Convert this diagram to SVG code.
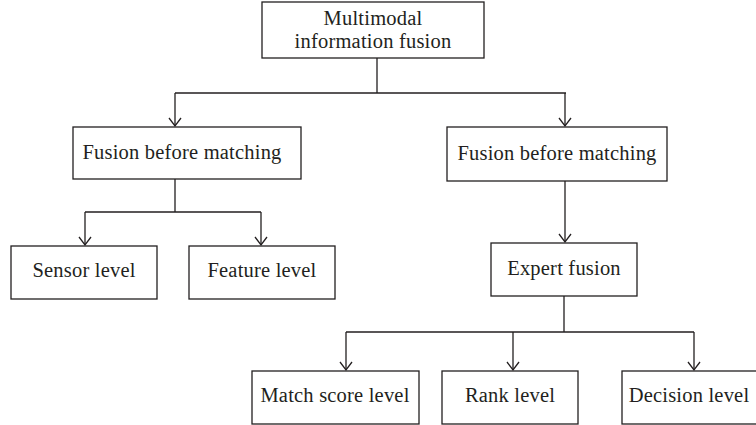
<svg xmlns="http://www.w3.org/2000/svg" width="756" height="425" viewBox="0 0 756 425">
<style>
.box{fill:#fff;stroke:#231f20;stroke-width:1.3}
.lbl{font-family:"Liberation Serif","Times New Roman",serif;font-size:20.5px;letter-spacing:0.2px;fill:#231f20;text-anchor:middle}
.con{fill:none;stroke:#231f20;stroke-width:1.3}
</style>
<defs>
<marker id="arr" viewBox="-10 -7 12 14" refX="0" refY="0" markerWidth="12" markerHeight="14" markerUnits="userSpaceOnUse" orient="auto">
<path d="M-8,-6 L0,0 L-8,6" fill="none" stroke="#231f20" stroke-width="1.3"/>
</marker>
</defs>
<g id="connectors">
<path class="con" d="M377,58 V93 M175,93 H566"/>
<path class="con" d="M175,93 V126" marker-end="url(#arr)"/>
<path class="con" d="M565,93 V126" marker-end="url(#arr)"/>
<path class="con" d="M175,179 V212 M85,212 H261"/>
<path class="con" d="M85,212 V245" marker-end="url(#arr)"/>
<path class="con" d="M261,212 V245" marker-end="url(#arr)"/>
<path class="con" d="M565,181 V242" marker-end="url(#arr)"/>
<path class="con" d="M564,296 V332 M346,332 H694"/>
<path class="con" d="M346,332 V370" marker-end="url(#arr)"/>
<path class="con" d="M513,332 V370" marker-end="url(#arr)"/>
<path class="con" d="M694,332 V370" marker-end="url(#arr)"/>
</g>
<g id="root">
<rect class="box" x="262" y="2" width="222" height="56"/>
<text class="lbl" x="373" y="25">Multimodal</text>
<text class="lbl" x="373" y="48">information fusion</text>
</g>
<g id="fbm-left">
<rect class="box" x="73" y="127" width="228" height="52"/>
<text class="lbl" x="182" y="159">Fusion before matching</text>
</g>
<g id="fbm-right">
<rect class="box" x="447" y="127" width="220" height="54"/>
<text class="lbl" x="557" y="160">Fusion before matching</text>
</g>
<g id="sensor">
<rect class="box" x="11" y="246" width="146" height="53"/>
<text class="lbl" x="84" y="277">Sensor level</text>
</g>
<g id="feature">
<rect class="box" x="189" y="246" width="146" height="53"/>
<text class="lbl" x="262" y="277">Feature level</text>
</g>
<g id="expert">
<rect class="box" x="491" y="243" width="146" height="53"/>
<text class="lbl" x="564" y="275">Expert fusion</text>
</g>
<g id="matchscore">
<rect class="box" x="252" y="371" width="167" height="53"/>
<text class="lbl" x="335" y="402">Match score level</text>
</g>
<g id="rank">
<rect class="box" x="442" y="371" width="136" height="53"/>
<text class="lbl" x="510" y="402">Rank level</text>
</g>
<g id="decision">
<rect class="box" x="622" y="371" width="140" height="53"/>
<text class="lbl" x="689" y="402">Decision level</text>
</g>
</svg>
